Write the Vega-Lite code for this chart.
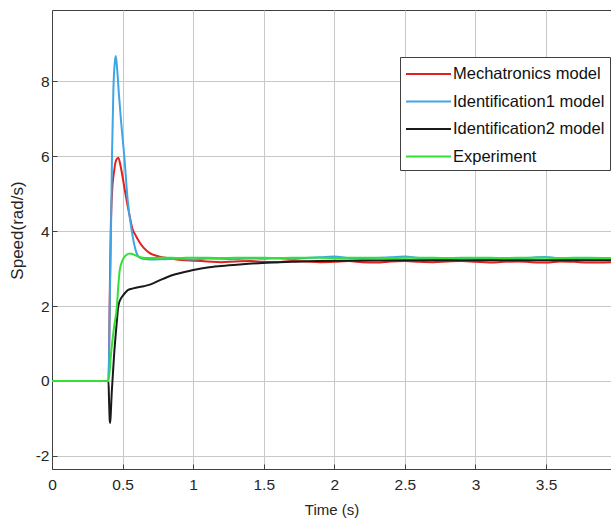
{
  "$schema": "https://vega.github.io/schema/vega-lite/v6.json",
  "width": 559,
  "height": 459,
  "autosize": {"type": "none"},
  "padding": {"left": 52, "top": 10, "right": 0, "bottom": 53},
  "background": "white",
  "config": {
    "font": "Liberation Sans",
    "view": {"stroke": "#404040", "strokeWidth": 1},
    "axis": {
      "labelFont": "Liberation Sans",
      "titleFont": "Liberation Sans",
      "labelFontSize": 15.5,
      "titleFontSize": 15,
      "labelColor": "#262626",
      "titleColor": "#262626",
      "titleFontWeight": "normal",
      "gridColor": "#c8c8c8",
      "gridOpacity": 1,
      "domainColor": "#404040",
      "tickColor": "#404040"
    },
    "legend": {
      "labelFont": "Liberation Sans",
      "labelFontSize": 16.5,
      "labelColor": "#111111"
    }
  },
  "datasets": {
    "curves": [
      {"series": "Mechatronics model", "t": 0, "v": 0},
      {"series": "Mechatronics model", "t": 0.4, "v": 0},
      {"series": "Mechatronics model", "t": 0.41, "v": 2.5},
      {"series": "Mechatronics model", "t": 0.416, "v": 4.0},
      {"series": "Mechatronics model", "t": 0.425, "v": 5.0},
      {"series": "Mechatronics model", "t": 0.44, "v": 5.6},
      {"series": "Mechatronics model", "t": 0.455, "v": 5.9},
      {"series": "Mechatronics model", "t": 0.47, "v": 5.96},
      {"series": "Mechatronics model", "t": 0.485, "v": 5.75},
      {"series": "Mechatronics model", "t": 0.5, "v": 5.45},
      {"series": "Mechatronics model", "t": 0.52, "v": 5.0},
      {"series": "Mechatronics model", "t": 0.545, "v": 4.5},
      {"series": "Mechatronics model", "t": 0.571, "v": 4.05},
      {"series": "Mechatronics model", "t": 0.59, "v": 3.9},
      {"series": "Mechatronics model", "t": 0.62, "v": 3.7},
      {"series": "Mechatronics model", "t": 0.65, "v": 3.55},
      {"series": "Mechatronics model", "t": 0.69, "v": 3.42},
      {"series": "Mechatronics model", "t": 0.75, "v": 3.33},
      {"series": "Mechatronics model", "t": 0.84, "v": 3.27},
      {"series": "Mechatronics model", "t": 0.92, "v": 3.23},
      {"series": "Mechatronics model", "t": 1.0, "v": 3.21},
      {"series": "Mechatronics model", "t": 1.1, "v": 3.19},
      {"series": "Mechatronics model", "t": 1.2, "v": 3.17},
      {"series": "Mechatronics model", "t": 1.3, "v": 3.19},
      {"series": "Mechatronics model", "t": 1.4, "v": 3.2},
      {"series": "Mechatronics model", "t": 1.5, "v": 3.18},
      {"series": "Mechatronics model", "t": 1.6, "v": 3.17},
      {"series": "Mechatronics model", "t": 1.7, "v": 3.2},
      {"series": "Mechatronics model", "t": 1.8, "v": 3.19},
      {"series": "Mechatronics model", "t": 1.9, "v": 3.17},
      {"series": "Mechatronics model", "t": 2.0, "v": 3.18},
      {"series": "Mechatronics model", "t": 2.1, "v": 3.2},
      {"series": "Mechatronics model", "t": 2.2, "v": 3.17},
      {"series": "Mechatronics model", "t": 2.3, "v": 3.16},
      {"series": "Mechatronics model", "t": 2.4, "v": 3.19},
      {"series": "Mechatronics model", "t": 2.5, "v": 3.2},
      {"series": "Mechatronics model", "t": 2.6, "v": 3.18},
      {"series": "Mechatronics model", "t": 2.7, "v": 3.17},
      {"series": "Mechatronics model", "t": 2.8, "v": 3.19},
      {"series": "Mechatronics model", "t": 2.9, "v": 3.2},
      {"series": "Mechatronics model", "t": 3.0, "v": 3.18},
      {"series": "Mechatronics model", "t": 3.1, "v": 3.16},
      {"series": "Mechatronics model", "t": 3.2, "v": 3.18},
      {"series": "Mechatronics model", "t": 3.3, "v": 3.19},
      {"series": "Mechatronics model", "t": 3.4, "v": 3.17},
      {"series": "Mechatronics model", "t": 3.5, "v": 3.16},
      {"series": "Mechatronics model", "t": 3.6, "v": 3.19},
      {"series": "Mechatronics model", "t": 3.7, "v": 3.18},
      {"series": "Mechatronics model", "t": 3.8, "v": 3.16},
      {"series": "Mechatronics model", "t": 3.96, "v": 3.17},

      {"series": "Identification1 model", "t": 0, "v": 0},
      {"series": "Identification1 model", "t": 0.4, "v": 0},
      {"series": "Identification1 model", "t": 0.41, "v": 2.2},
      {"series": "Identification1 model", "t": 0.418, "v": 4.0},
      {"series": "Identification1 model", "t": 0.425, "v": 6.0},
      {"series": "Identification1 model", "t": 0.435, "v": 7.8},
      {"series": "Identification1 model", "t": 0.445, "v": 8.5},
      {"series": "Identification1 model", "t": 0.452, "v": 8.67},
      {"series": "Identification1 model", "t": 0.462, "v": 8.3},
      {"series": "Identification1 model", "t": 0.475, "v": 7.6},
      {"series": "Identification1 model", "t": 0.49, "v": 6.9},
      {"series": "Identification1 model", "t": 0.512, "v": 6.0},
      {"series": "Identification1 model", "t": 0.536, "v": 4.83},
      {"series": "Identification1 model", "t": 0.564, "v": 4.03},
      {"series": "Identification1 model", "t": 0.585, "v": 3.6},
      {"series": "Identification1 model", "t": 0.61, "v": 3.33},
      {"series": "Identification1 model", "t": 0.64, "v": 3.26},
      {"series": "Identification1 model", "t": 0.7, "v": 3.24},
      {"series": "Identification1 model", "t": 0.8, "v": 3.25},
      {"series": "Identification1 model", "t": 0.9, "v": 3.26},
      {"series": "Identification1 model", "t": 1.0, "v": 3.24},
      {"series": "Identification1 model", "t": 1.1, "v": 3.27},
      {"series": "Identification1 model", "t": 1.2, "v": 3.26},
      {"series": "Identification1 model", "t": 1.3, "v": 3.25},
      {"series": "Identification1 model", "t": 1.4, "v": 3.27},
      {"series": "Identification1 model", "t": 1.5, "v": 3.26},
      {"series": "Identification1 model", "t": 1.6, "v": 3.27},
      {"series": "Identification1 model", "t": 1.7, "v": 3.25},
      {"series": "Identification1 model", "t": 1.8, "v": 3.28},
      {"series": "Identification1 model", "t": 1.9, "v": 3.3},
      {"series": "Identification1 model", "t": 2.0, "v": 3.32},
      {"series": "Identification1 model", "t": 2.1, "v": 3.28},
      {"series": "Identification1 model", "t": 2.2, "v": 3.27},
      {"series": "Identification1 model", "t": 2.3, "v": 3.28},
      {"series": "Identification1 model", "t": 2.4, "v": 3.3},
      {"series": "Identification1 model", "t": 2.5, "v": 3.32},
      {"series": "Identification1 model", "t": 2.6, "v": 3.28},
      {"series": "Identification1 model", "t": 2.7, "v": 3.27},
      {"series": "Identification1 model", "t": 2.8, "v": 3.26},
      {"series": "Identification1 model", "t": 2.9, "v": 3.28},
      {"series": "Identification1 model", "t": 3.0, "v": 3.27},
      {"series": "Identification1 model", "t": 3.1, "v": 3.26},
      {"series": "Identification1 model", "t": 3.2, "v": 3.28},
      {"series": "Identification1 model", "t": 3.3, "v": 3.27},
      {"series": "Identification1 model", "t": 3.4, "v": 3.29},
      {"series": "Identification1 model", "t": 3.5, "v": 3.31},
      {"series": "Identification1 model", "t": 3.6, "v": 3.27},
      {"series": "Identification1 model", "t": 3.7, "v": 3.26},
      {"series": "Identification1 model", "t": 3.8, "v": 3.27},
      {"series": "Identification1 model", "t": 3.96, "v": 3.27},

      {"series": "Identification2 model", "t": 0, "v": 0},
      {"series": "Identification2 model", "t": 0.4, "v": 0},
      {"series": "Identification2 model", "t": 0.404, "v": -0.5},
      {"series": "Identification2 model", "t": 0.409, "v": -1.05},
      {"series": "Identification2 model", "t": 0.412, "v": -1.12},
      {"series": "Identification2 model", "t": 0.416, "v": -0.9},
      {"series": "Identification2 model", "t": 0.422, "v": -0.4},
      {"series": "Identification2 model", "t": 0.43, "v": 0.1},
      {"series": "Identification2 model", "t": 0.44, "v": 0.7},
      {"series": "Identification2 model", "t": 0.455, "v": 1.4},
      {"series": "Identification2 model", "t": 0.47, "v": 2.0},
      {"series": "Identification2 model", "t": 0.485, "v": 2.18},
      {"series": "Identification2 model", "t": 0.505, "v": 2.29},
      {"series": "Identification2 model", "t": 0.54, "v": 2.43},
      {"series": "Identification2 model", "t": 0.575, "v": 2.47},
      {"series": "Identification2 model", "t": 0.611, "v": 2.5},
      {"series": "Identification2 model", "t": 0.65, "v": 2.53},
      {"series": "Identification2 model", "t": 0.694, "v": 2.57},
      {"series": "Identification2 model", "t": 0.765, "v": 2.69},
      {"series": "Identification2 model", "t": 0.85, "v": 2.82},
      {"series": "Identification2 model", "t": 1.0, "v": 2.96},
      {"series": "Identification2 model", "t": 1.1, "v": 3.03},
      {"series": "Identification2 model", "t": 1.2, "v": 3.07},
      {"series": "Identification2 model", "t": 1.33, "v": 3.11},
      {"series": "Identification2 model", "t": 1.49, "v": 3.15},
      {"series": "Identification2 model", "t": 1.7, "v": 3.18},
      {"series": "Identification2 model", "t": 2.0, "v": 3.21},
      {"series": "Identification2 model", "t": 2.5, "v": 3.22},
      {"series": "Identification2 model", "t": 3.0, "v": 3.22},
      {"series": "Identification2 model", "t": 3.5, "v": 3.22},
      {"series": "Identification2 model", "t": 3.96, "v": 3.22},

      {"series": "Experiment", "t": 0, "v": 0},
      {"series": "Experiment", "t": 0.4, "v": 0},
      {"series": "Experiment", "t": 0.42, "v": 0.8},
      {"series": "Experiment", "t": 0.44, "v": 1.45},
      {"series": "Experiment", "t": 0.46, "v": 2.0},
      {"series": "Experiment", "t": 0.47, "v": 2.55},
      {"series": "Experiment", "t": 0.48, "v": 2.96},
      {"series": "Experiment", "t": 0.5, "v": 3.22},
      {"series": "Experiment", "t": 0.52, "v": 3.34},
      {"series": "Experiment", "t": 0.552, "v": 3.4},
      {"series": "Experiment", "t": 0.58, "v": 3.37},
      {"series": "Experiment", "t": 0.62, "v": 3.31},
      {"series": "Experiment", "t": 0.66, "v": 3.28},
      {"series": "Experiment", "t": 0.7, "v": 3.28},
      {"series": "Experiment", "t": 0.8, "v": 3.29},
      {"series": "Experiment", "t": 0.9, "v": 3.28},
      {"series": "Experiment", "t": 1.0, "v": 3.29},
      {"series": "Experiment", "t": 1.2, "v": 3.28},
      {"series": "Experiment", "t": 1.4, "v": 3.29},
      {"series": "Experiment", "t": 1.6, "v": 3.28},
      {"series": "Experiment", "t": 1.8, "v": 3.29},
      {"series": "Experiment", "t": 2.0, "v": 3.28},
      {"series": "Experiment", "t": 2.2, "v": 3.29},
      {"series": "Experiment", "t": 2.4, "v": 3.28},
      {"series": "Experiment", "t": 2.6, "v": 3.29},
      {"series": "Experiment", "t": 2.8, "v": 3.28},
      {"series": "Experiment", "t": 3.0, "v": 3.29},
      {"series": "Experiment", "t": 3.2, "v": 3.28},
      {"series": "Experiment", "t": 3.4, "v": 3.29},
      {"series": "Experiment", "t": 3.6, "v": 3.28},
      {"series": "Experiment", "t": 3.8, "v": 3.29},
      {"series": "Experiment", "t": 3.96, "v": 3.28}
    ]
  },
  "data": {"name": "curves"},
  "mark": {"type": "line", "strokeWidth": 2, "interpolate": "monotone", "clip": true},
  "encoding": {
    "x": {
      "field": "t",
      "type": "quantitative",
      "scale": {"domain": [0, 3.96], "nice": false, "zero": false},
      "axis": {
        "title": "Time (s)",
        "values": [0, 0.5, 1, 1.5, 2, 2.5, 3, 3.5],
        "labelExpr": "'' + datum.value",
        "tickSize": -5,
        "labelPadding": 13,
        "titlePadding": 10,
        "labelFlush": false
      }
    },
    "y": {
      "field": "v",
      "type": "quantitative",
      "scale": {"domain": [-2.35, 9.9], "nice": false, "zero": false},
      "axis": {
        "title": "Speed(rad/s)",
        "titleFontSize": 17,
        "values": [-2, 0, 2, 4, 6, 8],
        "labelExpr": "'' + datum.value",
        "tickSize": -5,
        "labelPadding": 8,
        "titleX": -35,
        "titleY": 220,
        "titleBaseline": "middle"
      }
    },
    "color": {
      "field": "series",
      "type": "nominal",
      "sort": ["Mechatronics model", "Identification1 model", "Identification2 model", "Experiment"],
      "scale": {
        "domain": ["Mechatronics model", "Identification1 model", "Identification2 model", "Experiment"],
        "range": ["#e3201e", "#3ea6e5", "#1a1a1a", "#33e033"]
      },
      "legend": {
        "title": null,
        "orient": "none",
        "legendX": 348,
        "legendY": 47,
        "symbolType": "M-1,0H3.09",
        "symbolSize": 484,
        "symbolStrokeWidth": 2,
        "labelOffset": 24,
        "labelLimit": 300,
        "padding": 5,
        "rowPadding": 6.5,
        "fillColor": "white",
        "strokeColor": "#404040"
      }
    }
  }
}
